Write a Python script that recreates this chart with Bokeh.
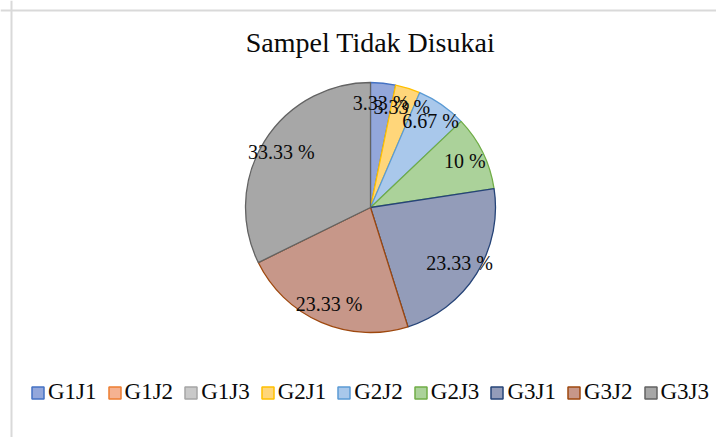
import math
import numpy as np
from bokeh.plotting import figure
from bokeh.models import Range1d, Legend, LegendItem, ColumnDataSource, Span, Label
from bokeh.embed import file_html
from bokeh.resources import INLINE
from bokeh.core.properties import value

# ---- data ----
title_text = "Sampel Tidak Disukai"
categories = ["G1J1", "G1J2", "G1J3", "G2J1", "G2J2", "G2J3", "G3J1", "G3J2", "G3J3"]
percent_values = [3.33, 0, 0, 3.33, 6.67, 10, 23.33, 23.33, 33.33]
label_texts = ["3.33 %", "", "", "3.33 %", "6.67 %", "10 %", "23.33 %", "23.33 %", "33.33 %"]

# ---- styles ----
fill_colors = ["#93A7DB", "#F5B291", "#C9C9C9", "#FFD67A", "#A9C8EB",
               "#ABD29A", "#939CB9", "#C79789", "#A7A7A7"]
line_colors = ["#4472C4", "#ED7D31", "#A5A5A5", "#FFC000", "#5B9BD5",
               "#70AD47", "#264478", "#9E480E", "#636363"]
FONT = "Liberation Serif"
R = 125.0
LABEL_R = 105.0

W, H = 716, 437
CX, CY = 370, 207  # pie centre on canvas (pixels from left / top)

p = figure(width=W, height=H, output_backend="svg", toolbar_location=None,
           x_range=Range1d(-CX, W - CX), y_range=Range1d(-(H - CY), CY),
           x_axis_location=None, y_axis_location=None, min_border=0)
p.grid.visible = False
p.outline_line_color = None
p.background_fill_color = "white"
p.border_fill_color = "white"

# chart-area border (light grey)
p.add_layout(Span(location=-CX + 11, dimension="height", line_color="#D9D9D9", line_width=2))
p.add_layout(Span(location=CY - 10, dimension="width", line_color="#D9D9D9", line_width=2))

total = float(sum(percent_values))
cum = np.concatenate([[0.0], np.cumsum(percent_values)]) / total * 2 * math.pi
starts = cum[:-1]
ends = cum[1:]
mids = (starts + ends) / 2

keep = [i for i, v in enumerate(percent_values) if v > 0]
wsrc = ColumnDataSource(dict(
    start=[math.pi / 2 - starts[i] for i in keep],
    end=[math.pi / 2 - ends[i] for i in keep],
    fill=[fill_colors[i] for i in keep],
    line=[line_colors[i] for i in keep],
))
p.wedge(x=0, y=0, radius=R, start_angle="start", end_angle="end", direction="clock",
        fill_color="fill", line_color="line", line_width=1.3, source=wsrc)

lsrc = ColumnDataSource(dict(
    x=[LABEL_R * math.sin(mids[i]) for i in keep],
    y=[LABEL_R * math.cos(mids[i]) for i in keep],
    t=[label_texts[i] for i in keep],
))
p.text(x="x", y="y", text="t", source=lsrc, text_align="center", text_baseline="middle",
       text_font=value(FONT), text_font_size="20px", text_color="#0a0a0a")

p.add_layout(Label(x=0, y=CY - 42, text=title_text, text_align="center",
                   text_baseline="alphabetic", text_font=FONT, text_font_size="28px",
                   text_color="#0a0a0a"))

# legend proxy (not drawn in the plot area)
psrc = ColumnDataSource(dict(x=[np.nan] * len(categories), y=[np.nan] * len(categories),
                             fill=fill_colors, line=line_colors))
proxy = p.rect(x="x", y="y", width=1, height=1, fill_color="fill", line_color="line",
               line_width=1.5, source=psrc)

legend = Legend(items=[LegendItem(label=c, renderers=[proxy], index=i)
                       for i, c in enumerate(categories)],
                orientation="horizontal", location=(30, 32),
                glyph_width=15, glyph_height=15, label_standoff=3, spacing=10,
                padding=0, margin=0, border_line_color=None, background_fill_alpha=0,
                label_text_font=FONT, label_text_font_size="23px",
                label_text_color="#0a0a0a")
p.add_layout(legend)

open("out.html", "w").write(file_html(p, INLINE))
